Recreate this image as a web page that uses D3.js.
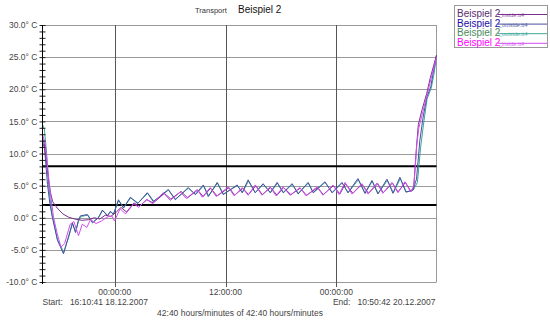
<!DOCTYPE html>
<html>
<head>
<meta charset="utf-8">
<script src="https://cdn.jsdelivr.net/npm/d3@7"></script>
<style>
  body { margin: 0; background: #fff; }
  svg { display: block; font-family: "Liberation Sans", Arial, sans-serif; }
</style>
</head>
<body>
<svg id="chart" width="550" height="323"></svg>
<script>
// time offset in hours since start, temperature in °C
var outsideBlue = [
  [0, 11.8], [0.22, 10.8], [0.54, 5.2], [0.8, 2.2], [1.08, 0], [1.62, -3.5], [2.27, -5.6],
  [2.81, -3.0], [3.24, -0.8], [3.57, -2.3], [3.89, -0.4], [4.11, 0.3], [4.86, 0.5], [5.41, -0.8],
  [6.05, 0.0], [6.49, 1.2], [7.03, 0.3], [7.35, 1.0], [7.68, 0.5], [8.22, 2.8], [8.76, 1.5],
  [9.51, 3.2], [10.3, 2.2], [11.35, 3.9], [12.0, 2.5], [13.62, 4.4], [14.38, 2.8], [15.78, 4.7],
  [16.54, 3.6], [17.41, 5.1], [17.95, 3.3], [18.92, 5.5], [19.57, 3.6], [21.08, 5.1], [21.62, 3.9],
  [22.27, 5.9], [23.03, 3.9], [23.89, 5.3], [24.65, 3.9], [25.41, 5.5], [26.05, 3.9], [27.03, 5.3],
  [27.68, 3.7], [28.76, 5.5], [29.30, 3.9], [30.59, 5.6], [31.35, 3.9], [32.43, 5.5], [33.08, 3.9],
  [34.16, 6.1], [34.92, 3.8], [35.68, 5.8], [36.32, 3.7], [37.30, 6.0], [37.95, 3.8], [38.70, 6.3],
  [39.35, 4.0], [40.11, 4.3], [40.5, 6.0], [40.86, 12.0], [41.2, 15.5], [41.62, 18.8], [42.05, 20.4],
  [42.3, 22.5], [42.667, 25.3]
];
var outsideGreen = [
  [0, 14.5], [0.2, 13.8], [0.45, 10.0], [0.7, 4.5], [1.0, 0.8], [1.6, -3.3], [2.3, -5.4],
  [2.85, -2.9], [3.25, -0.9], [3.6, -2.2], [3.9, -0.5], [4.15, 0.2], [4.9, 0.4], [5.45, -0.7],
  [6.1, 0.1], [6.5, 1.1], [7.05, 0.4], [7.4, 0.9], [7.7, 0.6], [8.25, 2.7], [8.8, 1.6],
  [9.55, 3.1], [10.35, 2.3], [11.4, 3.8], [12.05, 2.6], [13.65, 4.3], [14.4, 2.9], [15.8, 4.6],
  [16.6, 3.6], [17.45, 5.0], [18.0, 3.4], [18.95, 5.4], [19.6, 3.7], [21.1, 5.0], [21.65, 3.9],
  [22.3, 5.7], [23.05, 3.9], [23.9, 5.2], [24.7, 3.9], [25.45, 5.4], [26.1, 3.9], [27.05, 5.2],
  [27.7, 3.8], [28.8, 5.4], [29.35, 3.9], [30.6, 5.5], [31.4, 3.9], [32.45, 5.4], [33.1, 3.9],
  [34.2, 5.9], [34.95, 3.8], [35.7, 5.7], [36.35, 3.8], [37.35, 5.8], [38.0, 3.9], [38.75, 6.1],
  [39.4, 4.0], [40.15, 4.3], [40.6, 5.5], [40.95, 11.0], [41.3, 15.0], [41.65, 18.5], [42.1, 20.2],
  [42.35, 22.0], [42.667, 25.0]
];
var insidePurple = [
  [0, 12.4], [0.2, 11.5], [0.45, 8.5], [0.65, 6.0], [0.85, 4.0], [1.1, 2.5], [1.6, 1.5],
  [2.2, 0.6], [2.8, 0.1], [3.5, -0.2], [4.3, -0.4], [5.0, -0.3], [5.6, 0.0], [6.2, -0.2],
  [6.8, 0.4], [7.4, 0.2], [8.0, 0.9], [8.5, 1.6], [9.1, 0.9], [9.9, 2.3], [10.5, 1.8],
  [11.3, 2.8], [12.0, 2.3], [13.2, 3.8], [13.9, 2.9], [15.0, 4.1], [15.7, 3.1], [16.8, 4.3],
  [17.4, 3.3], [18.2, 4.6], [18.9, 3.4], [20.2, 4.7], [20.8, 3.5], [21.7, 4.6], [22.3, 3.6],
  [23.1, 5.0], [23.8, 3.6], [24.7, 4.7], [25.4, 3.5], [26.1, 4.7], [26.9, 3.6], [27.9, 4.6],
  [28.6, 3.5], [29.8, 4.7], [30.4, 3.6], [31.5, 5.0], [32.2, 3.7], [32.8, 5.3], [33.6, 3.8],
  [34.6, 5.2], [35.3, 3.8], [36.3, 5.3], [36.9, 3.9], [37.9, 5.4], [38.5, 4.0], [39.3, 5.5],
  [39.9, 4.1], [40.2, 4.8], [40.5, 11.0], [40.7, 14.5], [41.1, 16.8], [41.6, 19.3], [42.0, 21.8],
  [42.667, 25.3]
];
var insideMagenta = [
  [0, 13.0], [0.3, 11.5], [0.75, 5.0], [1.2, 0.0], [1.6, -2.5], [2.0, -4.6], [2.4, -4.0],
  [3.0, -1.0], [3.4, -0.6], [3.9, -2.8], [4.3, -1.0], [4.8, -1.5], [5.2, -0.3], [5.8, -0.9],
  [6.4, -0.5], [7.0, 0.1], [7.5, 0.3], [7.8, -0.5], [8.4, 1.4], [9.0, 0.6], [9.9, 2.2],
  [10.4, 1.6], [11.3, 2.9], [11.9, 2.2], [13.08, 3.9], [13.84, 2.7], [14.92, 4.0], [15.57, 3.0],
  [16.76, 4.4], [17.30, 3.2], [18.16, 4.7], [18.81, 3.3], [20.11, 4.8], [20.76, 3.4], [21.62, 4.7],
  [22.27, 3.5], [23.03, 5.1], [23.78, 3.5], [24.65, 4.8], [25.30, 3.4], [26.05, 4.8], [26.81, 3.5],
  [27.89, 4.7], [28.54, 3.4], [29.73, 4.8], [30.38, 3.5], [31.46, 5.1], [32.11, 3.6], [32.76, 5.5],
  [33.51, 3.7], [34.59, 5.3], [35.24, 3.7], [36.22, 5.4], [36.86, 3.8], [37.84, 5.5], [38.49, 3.9],
  [39.24, 5.6], [39.89, 4.0], [40.22, 5.0], [40.54, 11.5], [40.76, 14.0], [41.19, 16.5],
  [41.62, 19.0], [42.05, 21.5], [42.667, 25.0]
];

var yTicks = [-10, -5, 0, 5, 10, 15, 20, 25, 30];
var limitLines = [8, 2];
var startTime = new Date(2007, 11, 18, 16, 10, 41);
var endTime = new Date(2007, 11, 20, 10, 50, 42);

var series = [
  { name: "outside", data: outsideGreen, color: "#3aa79a", text: "#4a8a5a", sub: "_outside.tt4" },
  { name: "outside", data: outsideBlue, color: "#4650a0", text: "#1a0aa8", sub: "_outside.tt4" },
  { name: "inside", data: insidePurple, color: "#7a2e8e", text: "#5a2d6e", sub: "_inside.tt4" },
  { name: "inside", data: insideMagenta, color: "#d24ef0", text: "#ff00ff", sub: "_inside.tt4" }
];
var legendOrder = [2, 1, 0, 3];

(function draw() {
  var svg = d3.select("#chart");
  var plotLeft = 42.5, plotRight = 436.5, plotTop = 25, plotBottom = 282;

  var x = d3.scaleTime().domain([startTime, endTime]).range([plotLeft, plotRight]);
  var y = d3.scaleLinear().domain([-10, 30]).range([plotBottom, plotTop]);

  function toDate(h) {
    return new Date(startTime.getTime() + h * 3600 * 1000);
  }

  // horizontal grid
  svg.append("g")
    .selectAll("line")
    .data(yTicks)
    .enter()
    .append("line")
    .attr("x1", plotLeft).attr("x2", plotRight)
    .attr("y1", d => Math.round(y(d)) + 0.5).attr("y2", d => Math.round(y(d)) + 0.5)
    .attr("stroke", "#9a9a9a");

  // vertical grid at midnight / noon
  var timeTicks = x.ticks(d3.timeHour.every(12));
  svg.append("g")
    .selectAll("line")
    .data(timeTicks)
    .enter()
    .append("line")
    .attr("x1", d => Math.round(x(d)) + 0.5).attr("x2", d => Math.round(x(d)) + 0.5)
    .attr("y1", plotTop).attr("y2", plotBottom + 5)
    .attr("stroke", "#555");

  svg.append("line")
    .attr("x1", plotRight).attr("x2", plotRight).attr("y1", plotTop).attr("y2", plotBottom)
    .attr("stroke", "#9a9a9a");

  // limit lines
  svg.append("g")
    .selectAll("line")
    .data(limitLines)
    .enter()
    .append("line")
    .attr("x1", plotLeft).attr("x2", plotRight)
    .attr("y1", d => y(d)).attr("y2", d => y(d))
    .attr("stroke", "#000")
    .attr("stroke-width", 2);

  // series
  var line = d3.line()
    .x(d => x(toDate(d[0])))
    .y(d => y(d[1]));

  svg.append("g")
    .selectAll("path")
    .data(series)
    .enter()
    .append("path")
    .attr("d", d => line(d.data))
    .attr("fill", "none")
    .attr("stroke", d => d.color)
    .attr("stroke-width", 1);

  // y axis
  var yAxis = d3.axisLeft(y)
    .tickValues(d3.range(-10, 31, 1))
    .tickSize(6)
    .tickPadding(2)
    .tickFormat(d => d % 5 === 0 ? d.toFixed(1) + "° C" : "");
  var yg = svg.append("g")
    .attr("transform", "translate(" + (plotLeft + 3) + ",0)")
    .call(yAxis);
  yg.select(".domain").remove();
  yg.selectAll(".tick line").attr("stroke", "#222");
  yg.selectAll("text")
    .attr("font-size", "8.5px")
    .attr("font-family", "Liberation Sans, Arial, sans-serif")
    .attr("fill", "#444");

  svg.append("line")
    .attr("x1", plotLeft).attr("x2", plotLeft).attr("y1", plotTop).attr("y2", plotBottom + 2)
    .attr("stroke", "#000");

  // x labels
  svg.append("g")
    .selectAll("text")
    .data(timeTicks)
    .enter()
    .append("text")
    .attr("x", d => x(d))
    .attr("y", 295)
    .attr("text-anchor", "middle")
    .attr("font-size", "8.5px")
    .attr("fill", "#444")
    .text(d3.timeFormat("%H:%M:%S"));

  var fmt = d3.timeFormat("%H:%M:%S %d.%m.%Y");
  svg.append("text")
    .attr("x", plotLeft).attr("y", 305)
    .attr("font-size", "8.5px").attr("fill", "#444")
    .attr("xml:space", "preserve")
    .text("Start:   " + fmt(startTime));
  svg.append("text")
    .attr("x", plotRight - 1).attr("y", 305)
    .attr("text-anchor", "end")
    .attr("font-size", "8.5px").attr("fill", "#444")
    .attr("xml:space", "preserve")
    .text("End:   " + fmt(endTime));
  svg.append("text")
    .attr("x", 240).attr("y", 316)
    .attr("text-anchor", "middle")
    .attr("font-size", "8.5px").attr("fill", "#444")
    .text("42:40 hours/minutes of 42:40 hours/minutes");

  // title
  svg.append("text")
    .attr("x", 195).attr("y", 13)
    .attr("font-size", "7.5px").attr("fill", "#333")
    .text("Transport");
  svg.append("text")
    .attr("x", 238).attr("y", 13)
    .attr("font-size", "10px").attr("fill", "#111")
    .text("Beispiel 2");

  // legend
  var legend = svg.append("g");
  legend.append("rect")
    .attr("x", 454.5).attr("y", 5.5).attr("width", 93).attr("height", 42)
    .attr("fill", "#fff").attr("stroke", "#999");

  var rows = legend.selectAll("g.row")
    .data(legendOrder.map(i => series[i]))
    .enter()
    .append("g")
    .attr("class", "row")
    .attr("transform", (d, i) => "translate(457," + (17 + i * 9.6) + ")");
  rows.append("line")
    .attr("x1", 41).attr("x2", 90).attr("y1", -2.5).attr("y2", -2.5)
    .attr("stroke", d => d.color)
    .attr("stroke-width", 1);
  rows.append("text")
    .attr("font-size", "10px")
    .attr("fill", d => d.text)
    .text("Beispiel 2");
  rows.append("text")
    .attr("x", 42)
    .attr("font-size", "5.5px")
    .attr("fill", d => d.color)
    .attr("opacity", 0.85)
    .text(d => d.sub);
})();
</script>
</body>
</html>
